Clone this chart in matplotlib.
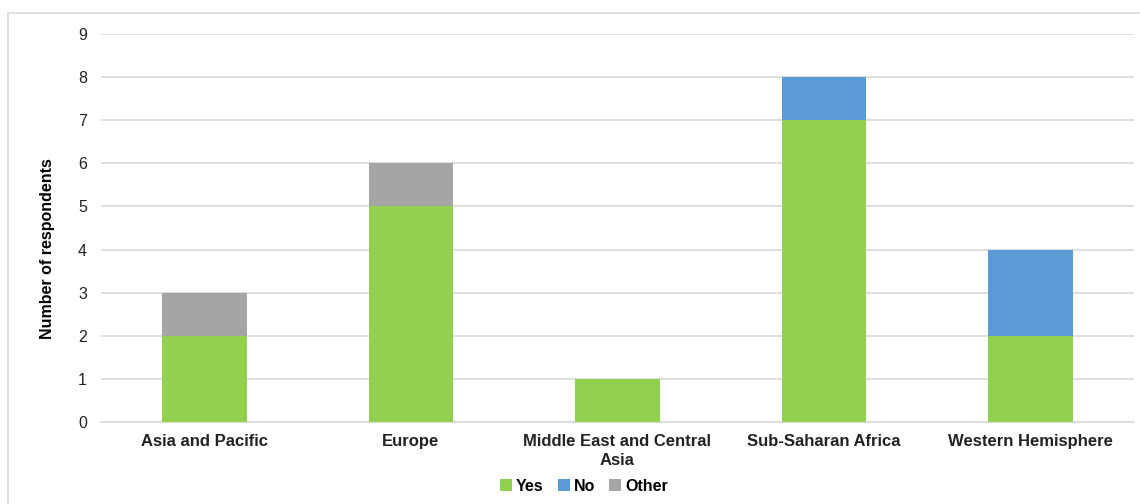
import numpy as np
import matplotlib.pyplot as plt
from matplotlib.patches import Rectangle

plt.rcParams["font.family"] = ["Liberation Sans", "DejaVu Sans"]

REGIONS = ["Asia and Pacific", "Europe", "Middle East and Central\nAsia",
           "Sub-Saharan Africa", "Western Hemisphere"]
YES   = [2, 5, 1, 7, 2]
NO    = [0, 0, 0, 1, 2]
OTHER = [1, 1, 0, 0, 0]

SERIES = [("Yes", YES, "#92D050"), ("No", NO, "#5B9BD5"), ("Other", OTHER, "#A5A5A5")]

fig = plt.figure(figsize=(11.4, 5.04), dpi=100)
ax = fig.add_axes([0.0886, 0.1627, 0.906, 0.7698])

# light frame around the whole chart area
fig.patches.append(Rectangle((8 / 1140, -0.1), 1.2, 1 - 13 / 504 + 0.1,
                             transform=fig.transFigure, fill=False,
                             edgecolor="#D9D9D9", linewidth=1.2))

x = np.arange(len(REGIONS))
bottom = np.zeros(len(REGIONS))
for name, vals, color in SERIES:
    vals = np.array(vals, dtype=float)
    ax.bar(x, vals, 0.41, bottom=bottom, color=color, label=name, zorder=3)
    bottom += vals

ax.set_xlim(-0.5, len(REGIONS) - 0.5)
ax.set_ylim(0, 9)
ax.set_yticks(range(0, 10))
ax.tick_params(axis="y", length=0, labelsize=11.5, pad=10, labelcolor="#222222")
ax.tick_params(axis="x", length=0, pad=9)
ax.set_xticks(x)
ax.set_xticklabels(REGIONS, fontsize=12, fontweight="bold", color="#222222",
                   linespacing=1.3)
ax.grid(axis="y", color="#D9D9D9", linewidth=1.2, zorder=0)
for side in ["left", "right", "top"]:
    ax.spines[side].set_visible(False)
ax.spines["bottom"].set_color("#D9D9D9")
ax.spines["bottom"].set_linewidth(1.2)
ax.set_ylabel("Number of respondents", fontsize=11.5, fontweight="bold",
              va="center")
ax.yaxis.set_label_coords(-0.052, 0.446)

ax.legend(loc="center", bbox_to_anchor=(0.4676, -0.165), ncol=3, frameon=False,
          handlelength=0.75, handleheight=0.75, handletextpad=0.25, columnspacing=0.9,
          prop={"weight": "bold", "size": 11.5})

fig.savefig("out.png", dpi=100)
